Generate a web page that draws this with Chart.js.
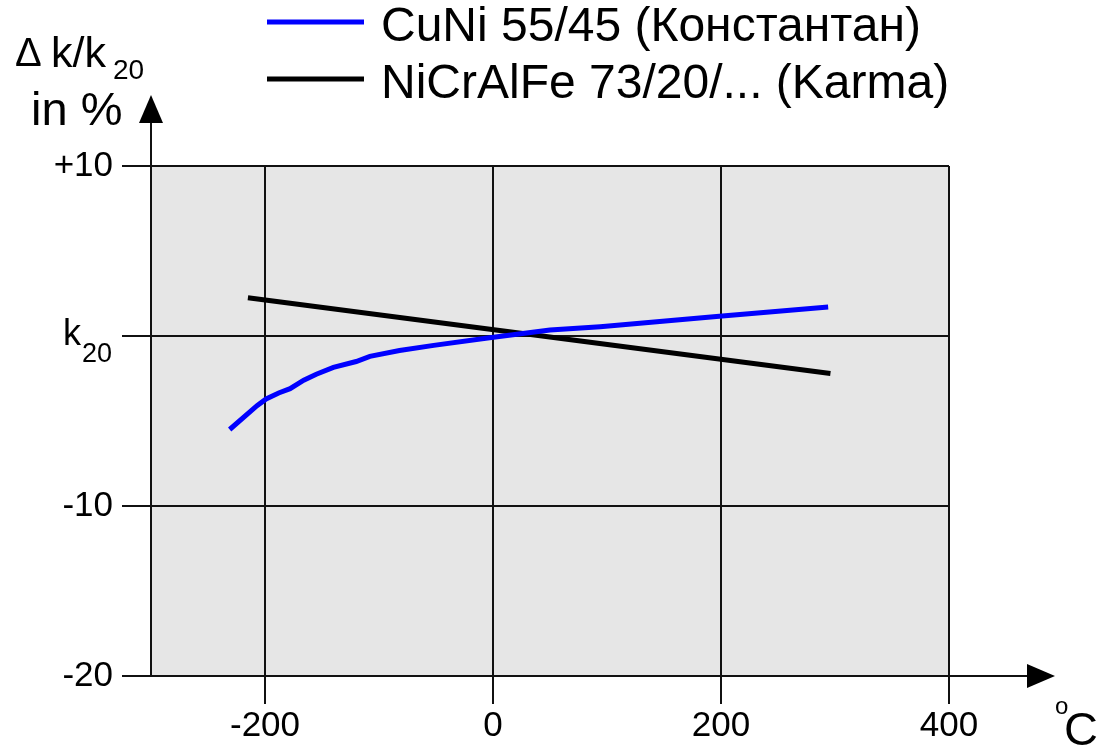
<!DOCTYPE html>
<html>
<head>
<meta charset="utf-8">
<script src="https://cdn.jsdelivr.net/npm/chart.js@4"></script>
<style>
html,body{margin:0;padding:0;background:#fff;}
#wrap{width:1111px;height:746px;}
</style>
</head>
<body>
<div id="wrap"><canvas id="c" width="1111" height="746"></canvas></div>
<script>
// ---- data ----
const seriesNames = ['CuNi 55/45 (Константан)', 'NiCrAlFe 73/20/... (Karma)'];
const cuniX = [-231, -207, -199, -188, -178, -166, -155, -140, -120, -108, -82, -52, -3, 50, 94, 196, 294];
const cuniY = [-5.5, -4.1, -3.7, -3.35, -3.1, -2.6, -2.25, -1.85, -1.5, -1.2, -0.85, -0.55, -0.1, 0.35, 0.55, 1.15, 1.7];
const karmaX = [-215, 296];
const karmaY = [2.25, -2.2];
const xTicks = [-200, 0, 200, 400];
const xTickLabels = ['-200', '0', '200', '400'];
const yTicks = [-20, -10, 0, 10];
const yTickLabels = ['-20', '-10', 'k20', '+10'];
const xMin = -300, xMax = 400, yMin = -20, yMax = 10;

const FONT = '"Liberation Sans", Arial, sans-serif';
const LINE = '#111111';

function pts(xs, ys) { return xs.map((x, i) => ({x: x, y: ys[i]})); }

const decor = {
  id: 'decor',
  beforeDraw(chart) {
    const {ctx, chartArea: a} = chart;
    ctx.save();
    ctx.fillStyle = '#e6e6e6';
    ctx.fillRect(a.left, a.top, a.right - a.left, a.bottom - a.top);
    ctx.restore();
  },
  afterDraw(chart) {
    const {ctx, chartArea: a} = chart;
    ctx.save();
    ctx.strokeStyle = LINE; ctx.fillStyle = '#000'; ctx.lineWidth = 2;
    // y axis extension + arrow
    ctx.beginPath(); ctx.moveTo(a.left, a.top); ctx.lineTo(a.left, 122); ctx.stroke();
    ctx.beginPath(); ctx.moveTo(a.left, 95); ctx.lineTo(a.left - 12, 123); ctx.lineTo(a.left + 12, 123); ctx.closePath(); ctx.fill();
    // x axis extension + arrow
    ctx.beginPath(); ctx.moveTo(a.right, a.bottom); ctx.lineTo(1028, a.bottom); ctx.stroke();
    ctx.beginPath(); ctx.moveTo(1055, a.bottom); ctx.lineTo(1027, a.bottom - 12); ctx.lineTo(1027, a.bottom + 12); ctx.closePath(); ctx.fill();

    ctx.fillStyle = '#000';
    ctx.textAlign = 'left'; ctx.textBaseline = 'alphabetic';
    // k20 tick label
    const ys = chart.scales.y;
    yTicks.forEach((v, i) => {
      const lab = yTickLabels[i];
      if (lab === 'k20') {
        const py = ys.getPixelForValue(v);
        ctx.font = '36px ' + FONT;
        ctx.fillText('k', 63, py + 9);
        ctx.font = '27px ' + FONT;
        ctx.fillText('20', 82, py + 26);
      }
    });
    // y title
    ctx.font = '40px ' + FONT;
    ctx.fillText('\u0394', 15, 66);
    ctx.font = '43px ' + FONT;
    ctx.fillText('k/k', 51, 67);
    ctx.font = '28px ' + FONT;
    ctx.fillText('20', 113, 79);
    ctx.font = '47px ' + FONT;
    ctx.fillText('in %', 31, 125);
    // x unit
    ctx.font = '24px ' + FONT;
    ctx.fillText('o', 1055, 714);
    ctx.font = '47px ' + FONT;
    ctx.fillText('C', 1064, 745);

    // legend
    const lys = [22, 79];
    chart.data.datasets.forEach((d, i) => {
      ctx.strokeStyle = d.borderColor; ctx.lineWidth = 5;
      ctx.beginPath(); ctx.moveTo(267, lys[i]); ctx.lineTo(364, lys[i]); ctx.stroke();
      ctx.font = '48px ' + FONT; ctx.fillStyle = '#000';
      ctx.fillText(d.label, 381, lys[i] + 19);
    });
    ctx.restore();
  }
};

new Chart(document.getElementById('c'), {
  type: 'line',
  data: {
    datasets: [
      {label: seriesNames[0], data: pts(cuniX, cuniY), borderColor: '#0000ff', borderWidth: 5, pointRadius: 0, tension: 0, fill: false},
      {label: seriesNames[1], data: pts(karmaX, karmaY), borderColor: '#000000', borderWidth: 5, pointRadius: 0, tension: 0, fill: false}
    ]
  },
  options: {
    responsive: false,
    animation: false,
    devicePixelRatio: 1,
    layout: {padding: {top: 166, right: 162, left: 0, bottom: 0}},
    plugins: {legend: {display: false}, tooltip: {enabled: false}},
    scales: {
      x: {
        type: 'linear', min: xMin, max: xMax,
        afterBuildTicks: s => { s.ticks = xTicks.map(v => ({value: v})); },
        afterFit: s => { s.height = 70; },
        grid: {color: LINE, lineWidth: 2, tickLength: 28, drawTicks: true},
        border: {color: LINE, width: 2},
        ticks: {
          color: '#000', font: {family: FONT, size: 35}, padding: 1, maxRotation: 0, autoSkip: false,
          callback: v => { const i = xTicks.indexOf(v); return i >= 0 ? xTickLabels[i] : ''; }
        }
      },
      y: {
        type: 'linear', min: yMin, max: yMax,
        afterBuildTicks: s => { s.ticks = yTicks.map(v => ({value: v})); },
        afterFit: s => { s.width = 151; },
        grid: {color: LINE, lineWidth: 2, tickLength: 29, drawTicks: true},
        border: {color: LINE, width: 2},
        ticks: {
          color: '#000', font: {family: FONT, size: 35}, padding: 9, autoSkip: false,
          callback: v => { const i = yTicks.indexOf(v); return (i >= 0 && yTickLabels[i] !== 'k20') ? yTickLabels[i] : ''; }
        }
      }
    }
  },
  plugins: [decor]
});
</script>
</body>
</html>
